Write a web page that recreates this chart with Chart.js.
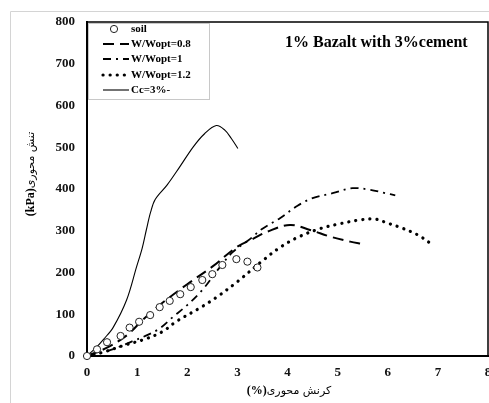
<!DOCTYPE html>
<html>
<head>
<meta charset="utf-8">
<script src="https://cdn.jsdelivr.net/npm/chart.js@4/dist/chart.umd.min.js"></script>
<style>
  html, body { margin: 0; padding: 0; background: #fff; }
  #wrap { position: relative; width: 489px; height: 403px; }
</style>
</head>
<body>
<div id="wrap"><canvas id="c" width="489" height="403"></canvas></div>
<script>
// Axial strain (%) / axial stress (kPa) for each test
const soilStrain = [0, 0.2, 0.4, 0.67, 0.85, 1.04, 1.26, 1.45, 1.65, 1.86, 2.07, 2.3, 2.5, 2.7, 2.98, 3.2, 3.4];
const soilStress = [0, 16, 33, 48, 68, 82, 98, 117, 132, 148, 165, 182, 196, 218, 232, 226, 212];

const w08Strain = [0, 0.4, 0.8, 1.1, 1.45, 2.0, 2.5, 3.0, 3.3, 3.6, 4.05, 4.45, 4.85, 5.25, 5.5];
const w08Stress = [0, 20, 50, 85, 122, 172, 214, 262, 280, 298, 314, 302, 286, 274, 268];

const w10Strain = [0, 0.3, 0.6, 0.9, 1.2, 1.45, 1.7, 2.0, 2.3, 2.6, 2.9, 3.25, 3.5, 3.85, 4.2, 4.5, 4.9, 5.3, 5.65, 5.95, 6.15];
const w10Stress = [0, 8, 20, 35, 50, 66, 92, 122, 158, 205, 248, 280, 305, 330, 360, 378, 390, 402, 398, 390, 385];

const w12Strain = [0, 0.35, 0.75, 1.15, 1.5, 1.8, 2.25, 2.6, 3.0, 3.5, 3.85, 4.2, 4.65, 5.05, 5.45, 5.75, 6.0, 6.25, 6.6, 6.85];
const w12Stress = [0, 10, 26, 40, 58, 84, 115, 142, 178, 228, 260, 284, 305, 317, 326, 328, 318, 308, 290, 270];

const ccStrain = [0, 0.18, 0.33, 0.52, 0.79, 0.99, 1.1, 1.18, 1.27, 1.36, 1.6, 1.85, 2.12, 2.35, 2.58, 2.75, 2.88, 3.01];
const ccStress = [0, 20, 40, 68, 134, 214, 258, 300, 345, 375, 410, 453, 501, 533, 552, 541, 521, 497];

const seriesLabels = ['soil', 'W/Wopt=0.8', 'W/Wopt=1', 'W/Wopt=1.2', 'Cc=3%-'];
const xTicks = [0, 1, 2, 3, 4, 5, 6, 7, 8];
const yTicks = [0, 100, 200, 300, 400, 500, 600, 700, 800];

const chartTitle = '1% Bazalt with 3%cement';
// axis titles: unit in parentheses, then the Persian name
const xTitleUnit = '(%)', xTitleName = 'کرنش محوری';
const yTitleUnit = '(kPa)', yTitleName = 'تنش محوری';

const SERIF = "'Liberation Serif', 'Times New Roman', serif";
const NASKH = "'DejaVu Sans', 'Noto Sans', sans-serif";

function pts(xs, ys) { return xs.map((x, i) => ({ x: x, y: ys[i] })); }

const lineBase = { showLine: true, pointRadius: 0, fill: false, clip: false, tension: 0.35, borderColor: '#000' };

const datasets = [
  { label: seriesLabels[0], data: pts(soilStrain, soilStress), showLine: false, pointRadius: 3.6,
    pointStyle: 'circle', pointBackgroundColor: '#fff', pointBorderColor: '#222', pointBorderWidth: 1, clip: false, order: 0 },
  Object.assign({}, lineBase, { label: seriesLabels[1], data: pts(w08Strain, w08Stress), borderWidth: 2, borderDash: [11, 6] }),
  Object.assign({}, lineBase, { label: seriesLabels[2], data: pts(w10Strain, w10Stress), borderWidth: 1.8, borderDash: [8, 5, 2, 5] }),
  Object.assign({}, lineBase, { label: seriesLabels[3], data: pts(w12Strain, w12Stress), borderWidth: 3.2, borderDash: [0.1, 7], borderCapStyle: 'round' }),
  Object.assign({}, lineBase, { label: seriesLabels[4], data: pts(ccStrain, ccStress), borderWidth: 1.1 })
];

// draws "(unit)" in bold serif followed by the name in a regular Arabic-capable face, centred on cx
function drawAxisTitle(ctx, unit, name, cx, cy) {
  ctx.textBaseline = 'middle';
  ctx.textAlign = 'left';
  ctx.font = 'bold 12px ' + SERIF;
  const wu = ctx.measureText(unit).width;
  ctx.font = '11px ' + NASKH;
  const wn = ctx.measureText(name).width;
  const x0 = cx - (wu + wn) / 2;
  ctx.font = 'bold 12px ' + SERIF;
  ctx.fillText(unit, x0, cy);
  ctx.font = '11px ' + NASKH;
  ctx.direction = 'rtl';
  ctx.textAlign = 'right';
  ctx.fillText(name, x0 + wu + wn, cy);
  ctx.direction = 'ltr';
}

// Frame, titles and the boxed legend drawn on top of the plot
const decor = {
  id: 'decor',
  beforeDraw(chart) {
    const ctx = chart.ctx;
    ctx.save();
    ctx.strokeStyle = '#d4d4d4';
    ctx.lineWidth = 1;
    ctx.beginPath();
    ctx.moveTo(10.5, 403); ctx.lineTo(10.5, 11.5); ctx.lineTo(489, 11.5);
    ctx.stroke();
    ctx.restore();
  },
  afterDraw(chart) {
    const ctx = chart.ctx;
    const a = chart.chartArea;
    ctx.save();
    // top and right frame
    ctx.strokeStyle = '#000';
    ctx.lineWidth = 1.5;
    ctx.beginPath();
    ctx.moveTo(a.left, a.top); ctx.lineTo(a.right, a.top); ctx.lineTo(a.right, a.bottom);
    ctx.stroke();

    // chart title
    ctx.fillStyle = '#000';
    ctx.font = 'bold 16px ' + SERIF;
    ctx.textAlign = 'left';
    ctx.textBaseline = 'middle';
    ctx.fillText(chartTitle, 285, 43);

    // axis titles
    drawAxisTitle(ctx, xTitleUnit, xTitleName, 289, 391);
    ctx.save();
    ctx.translate(31, 174);
    ctx.rotate(-Math.PI / 2);
    drawAxisTitle(ctx, yTitleUnit, yTitleName, 0, 0);
    ctx.restore();

    // legend
    const lx = a.left + 1, ly = a.top + 1, lw = 121, lh = 76;
    ctx.fillStyle = '#fff';
    ctx.fillRect(lx, ly, lw, lh);
    ctx.strokeStyle = '#c8c8c8';
    ctx.lineWidth = 1;
    ctx.strokeRect(lx + 0.5, ly + 0.5, lw, lh);
    ctx.font = 'bold 11px ' + SERIF;
    ctx.textAlign = 'left';
    ctx.textBaseline = 'middle';
    ctx.fillStyle = '#000';
    const rowY = [29, 44, 59, 75, 90];
    chart.data.datasets.forEach((ds, i) => {
      const y = rowY[i];
      ctx.save();
      if (ds.showLine === false) {
        ctx.beginPath();
        ctx.arc(114, y, 3.6, 0, Math.PI * 2);
        ctx.fillStyle = '#fff';
        ctx.fill();
        ctx.strokeStyle = '#222';
        ctx.lineWidth = 1;
        ctx.stroke();
      } else {
        ctx.strokeStyle = ds.borderColor;
        ctx.lineWidth = ds.borderWidth;
        ctx.lineCap = ds.borderCapStyle || 'butt';
        ctx.setLineDash(ds.borderDash || []);
        ctx.beginPath();
        ctx.moveTo(103, y); ctx.lineTo(129, y);
        ctx.stroke();
      }
      ctx.restore();
      ctx.fillText(ds.label, 131, y);
    });
    ctx.restore();
  }
};

new Chart(document.getElementById('c'), {
  type: 'scatter',
  data: { datasets: datasets },
  options: {
    responsive: false,
    animation: false,
    layout: { autoPadding: false, padding: { top: 22, right: 1, left: 0, bottom: 0 } },
    plugins: { legend: { display: false }, tooltip: { enabled: false } },
    scales: {
      x: {
        type: 'linear', min: 0, max: 8,
        grid: { display: false, drawTicks: false },
        border: { display: true, color: '#000', width: 2 },
        afterBuildTicks: s => { s.ticks = xTicks.map(v => ({ value: v })); },
        ticks: { color: '#111', padding: 9, font: { family: SERIF, size: 13, weight: 'bold' } },
        afterFit: s => { s.height = 47; s.paddingLeft = 0; s.paddingRight = 0; }
      },
      y: {
        type: 'linear', min: 0, max: 800,
        grid: { display: false, drawTicks: false },
        border: { display: true, color: '#000', width: 2 },
        afterBuildTicks: s => { s.ticks = yTicks.map(v => ({ value: v })); },
        ticks: { color: '#111', padding: 12, font: { family: SERIF, size: 13, weight: 'bold' } },
        afterFit: s => { s.width = 87; s.paddingTop = 0; s.paddingBottom = 0; }
      }
    }
  },
  plugins: [decor]
});
</script>
</body>
</html>
